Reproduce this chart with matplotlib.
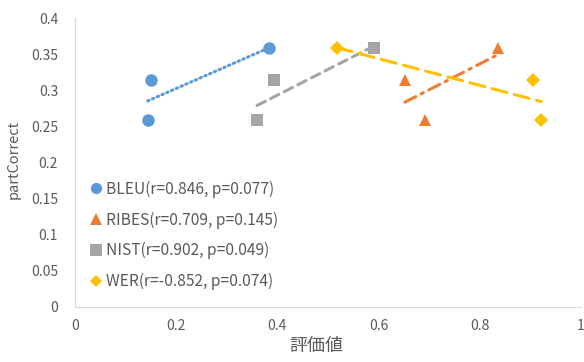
import numpy as np
import matplotlib.pyplot as plt
from matplotlib.lines import Line2D

plt.rcParams['font.family'] = ['Noto Sans CJK JP', 'DejaVu Sans']

# data
bleu_x = [0.144, 0.150, 0.383]
bleu_y = [0.259, 0.314, 0.358]
ribes_x = [0.692, 0.652, 0.836]
ribes_y = [0.259, 0.314, 0.358]
nist_x = [0.360, 0.393, 0.591]
nist_y = [0.259, 0.314, 0.358]
wer_x = [0.921, 0.905, 0.518]
wer_y = [0.259, 0.314, 0.358]

labels = ['BLEU(r=0.846, p=0.077)', 'RIBES(r=0.709, p=0.145)',
          'NIST(r=0.902, p=0.049)', 'WER(r=-0.852, p=0.074)']
colors = ['#5B9BD5', '#ED7D31', '#A5A5A5', '#FFC000']
markers = ['o', '^', 's', 'D']
msizes = [9, 9, 9, 7]
styles = [(0, (0.5, 1.2)), (0, (4, 2, 0.8, 2)), (0, (3, 2)), (0, (5, 2.5))]

fig = plt.figure(figsize=(5.84, 3.62), dpi=100)
ax = fig.add_axes([0.128, 0.152, 0.867, 0.798])

series = [(bleu_x, bleu_y), (ribes_x, ribes_y), (nist_x, nist_y), (wer_x, wer_y)]
handles = []
for (xs, ys), c, m, ms, ls, lab in zip(series, colors, markers, msizes, styles, labels):
    xs = np.array(xs)
    ys = np.array(ys)
    # linear trendline over the data range
    k, b = np.polyfit(xs, ys, 1)
    xx = np.array([xs.min(), xs.max()])
    ax.plot(xx, k * xx + b, color=c, lw=2.2, linestyle=ls,
            dash_capstyle='round', zorder=2)
    ax.plot(xs, ys, linestyle='none', marker=m, ms=ms, color=c,
            markeredgewidth=0, zorder=3)
    handles.append(Line2D([], [], linestyle='none', marker=m, color=c,
                          ms=ms * 0.9, markeredgewidth=0, label=lab))

ax.set_xlim(0, 1)
ax.set_ylim(0, 0.4)
ax.set_xticks(np.arange(0, 1.01, 0.2))
ax.set_xticklabels(['0', '0.2', '0.4', '0.6', '0.8', '1'])
ax.set_yticks(np.arange(0, 0.401, 0.05))
ax.set_yticklabels(['0', '0.05', '0.1', '0.15', '0.2', '0.25', '0.3', '0.35', '0.4'])
ax.tick_params(length=0, labelsize=10, colors='#595959')
ax.tick_params(axis='x', pad=9)
ax.tick_params(axis='y', pad=12)

for s in ['top', 'right']:
    ax.spines[s].set_visible(False)
ax.spines['left'].set_color('#D9D9D9')
ax.spines['bottom'].set_color('#D9D9D9')

ax.set_xlabel('評価値', fontsize=13, color='#595959')
ax.xaxis.set_label_coords(0.478, -0.105)
ax.set_ylabel('partCorrect', fontsize=10.5, color='#595959')
ax.yaxis.set_label_coords(-0.106, 0.51)

leg = ax.legend(handles=handles, loc='lower left', bbox_to_anchor=(0.011, 0.02),
                frameon=False, fontsize=11.2, labelspacing=0.88,
                handlelength=0.6, handletextpad=0.35, borderaxespad=0.3)
for t in leg.get_texts():
    t.set_color('#595959')

fig.savefig('out.png', dpi=100)
